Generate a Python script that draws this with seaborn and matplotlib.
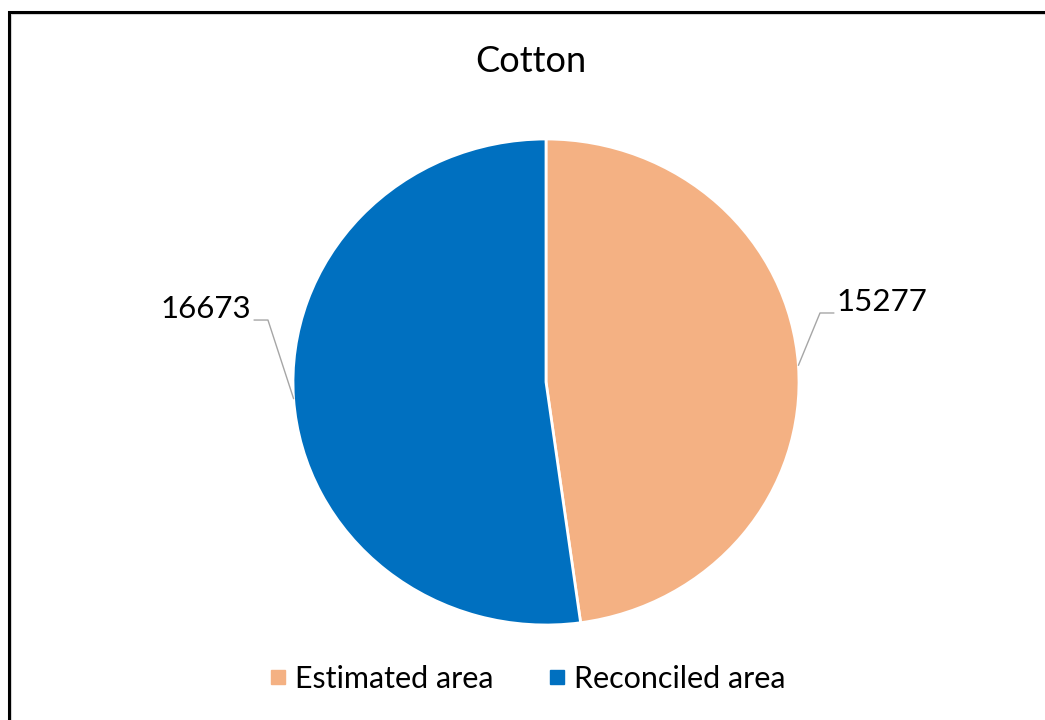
import matplotlib
matplotlib.use("Agg")
import numpy as np
import matplotlib.pyplot as plt
import seaborn as sns
from matplotlib.patches import Rectangle
from matplotlib.lines import Line2D

# data
title = "Cotton"
categories = ["Estimated area", "Reconciled area"]
areas = [15277, 16673]
colors = ["#F4B183", "#0070C0"]

sns.set_theme(style="white")
plt.rcParams["font.family"] = ["Lato", "DejaVu Sans"]

W, H = 1045, 720
fig = plt.figure(figsize=(W / 100, H / 100), dpi=100)
fig.patch.set_facecolor("white")

# pie axes (slightly wider than tall like the reference)
ax = fig.add_axes([293 / W, 1 - 625 / H, 506 / W, 486 / H])
wedges, _ = ax.pie(areas, colors=colors, startangle=90, counterclock=False,
                   wedgeprops=dict(edgecolor="white", linewidth=2))
for w in wedges:
    w.set_clip_on(False)
ax.set_aspect("auto")
ax.set_xlim(-1, 1)
ax.set_ylim(-1, 1)
ax.axis("off")

# leader lines + labels (elbow positions are layout)
elbows = [(1.083, 0.284), (-1.099, 0.255)]
for w, val, (ex, ey) in zip(wedges, areas, elbows):
    mid = np.deg2rad((w.theta1 + w.theta2) / 2)
    px, py = np.cos(mid), np.sin(mid)
    side = 1 if ex > 0 else -1
    endx = ex + side * 0.055
    ax.plot([px, ex, endx], [py, ey, ey], color="#A6A6A6", lw=1, clip_on=False)
    ax.text(endx + side * 0.012, ey + 0.045, f"{val}", ha="left" if side > 0 else "right",
            va="center", fontsize=22.5, color="black")

fig.text(531 / W, 1 - 62 / H, title, ha="center", va="center", fontsize=26, color="black")

handles = [Line2D([0], [0], marker="s", linestyle="none", markersize=10,
                  markerfacecolor=c, markeredgecolor=c) for c in colors]
fig.legend(handles, categories, loc="center", bbox_to_anchor=(524 / W, 1 - 679 / H),
           ncol=2, frameon=False, fontsize=22, handletextpad=0.05, columnspacing=1.6,
           handlelength=1.0, labelcolor="black")

# outer frame (only top/left edges visible in reference)
fig.add_artist(Rectangle((11 / W, -0.1), 1.2, 1.1 - 14 / H + 0.0, transform=fig.transFigure,
                         fill=False, edgecolor="#D9D9D9", lw=1.5))
fig.add_artist(Rectangle((8.5 / W, -0.1), 1.2, 1.1 - 11.5 / H, transform=fig.transFigure,
                         fill=False, edgecolor="black", lw=2.2))

fig.savefig("out.png", dpi=100, facecolor="white")
